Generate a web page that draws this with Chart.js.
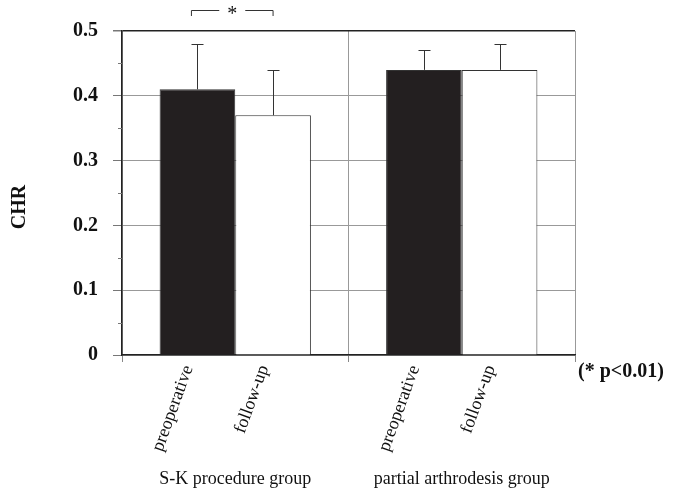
<!DOCTYPE html>
<html><head><meta charset="utf-8">
<script src="https://cdn.jsdelivr.net/npm/chart.js@4/dist/chart.umd.min.js"></script>
<style>html,body{margin:0;padding:0;background:#fff}#wrap{width:679px;height:497px}</style>
</head><body><div id="wrap"><canvas id="c" width="679" height="497"></canvas></div>
<script>
const groups = ["S-K procedure group", "partial arthrodesis group"];
const seriesNames = ["preoperative", "follow-up"];
const preoperative = [0.41, 0.44];
const followUp = [0.37, 0.44];
const preopUpper = [0.48, 0.47];
const followUpper = [0.44, 0.48];
const yMajorTicks = [0, 0.1, 0.2, 0.3, 0.4, 0.5];
const yMinorTicks = [0.05, 0.15, 0.25, 0.35, 0.45];
const significanceMark = "*";
const noteText = "(* p<0.01)";
const yTitle = "CHR";

const SERIF = "'Liberation Serif','Times New Roman',serif";
const uppers = [preopUpper, followUpper];

const overlay = {
  id: 'overlay',
  afterDatasetsDraw(chart) {
    const ctx = chart.ctx;
    const ys = chart.scales.y;
    const area = chart.chartArea;
    ctx.save();
    // error bars
    ctx.strokeStyle = '#333';
    ctx.lineWidth = 1;
    uppers.forEach((arr, i) => {
      const meta = chart.getDatasetMeta(i);
      arr.forEach((u, j) => {
        const bar = meta.data[j];
        const x = Math.round(bar.x) + 0.5;
        const yt = Math.round(ys.getPixelForValue(u)) + 0.5;
        ctx.beginPath();
        ctx.moveTo(x, bar.y);
        ctx.lineTo(x, yt);
        ctx.moveTo(x - 6, yt);
        ctx.lineTo(x + 6, yt);
        ctx.stroke();
      });
    });
    // minor ticks on y axis
    ctx.strokeStyle = '#777';
    yMinorTicks.forEach(v => {
      const y = Math.round(ys.getPixelForValue(v)) + 0.5;
      ctx.beginPath();
      ctx.moveTo(area.left - 4, y);
      ctx.lineTo(area.left, y);
      ctx.stroke();
    });
    // rotated bar labels
    ctx.fillStyle = '#111';
    ctx.font = "18px " + SERIF;
    ctx.textAlign = 'right';
    ctx.textBaseline = 'middle';
    seriesNames.forEach((name, i) => {
      const meta = chart.getDatasetMeta(i);
      meta.data.forEach(bar => {
        ctx.save();
        ctx.translate(bar.x - 9, area.bottom + 11);
        ctx.rotate(-70 * Math.PI / 180);
        ctx.fillText(name, 0, 0);
        ctx.restore();
      });
    });
    // significance bracket
    const x1 = chart.getDatasetMeta(0).data[0].x - 6;
    const x2 = chart.getDatasetMeta(1).data[0].x;
    const mid = (x1 + x2) / 2;
    const yb = 10.5;
    ctx.strokeStyle = '#333';
    ctx.beginPath();
    ctx.moveTo(x1, 16); ctx.lineTo(x1, yb); ctx.lineTo(mid - 13, yb);
    ctx.moveTo(mid + 13, yb); ctx.lineTo(x2, yb); ctx.lineTo(x2, 16);
    ctx.stroke();
    ctx.textAlign = 'center';
    ctx.font = "20px " + SERIF;
    ctx.fillText(significanceMark, mid, 15);
    // note
    ctx.font = "bold 20px " + SERIF;
    ctx.textAlign = 'left';
    ctx.fillText(noteText, area.right + 3, area.bottom + 17);
    // y title
    ctx.save();
    ctx.translate(20, 207);
    ctx.rotate(-Math.PI / 2);
    ctx.textAlign = 'center';
    ctx.fillText(yTitle, 0, 0);
    ctx.restore();
    ctx.restore();
  }
};

new Chart(document.getElementById('c'), {
  type: 'bar',
  data: {
    labels: groups,
    datasets: [
      { label: seriesNames[0], data: preoperative, backgroundColor: '#231f20', borderColor: '#333', borderWidth: 1,
        categoryPercentage: 0.668, barPercentage: 1.0 },
      { label: seriesNames[1], data: followUp, backgroundColor: '#ffffff', borderColor: '#333', borderWidth: 1,
        categoryPercentage: 0.668, barPercentage: 1.0 }
    ]
  },
  options: {
    responsive: false,
    devicePixelRatio: 1,
    animation: false,
    layout: { padding: { left: 0, top: 31, right: 104, bottom: 0 } },
    plugins: { legend: { display: false }, tooltip: { enabled: false } },
    scales: {
      x: {
        grid: {
          offset: true,
          color: c => c.index === 2 ? '#222' : '#999',
          tickColor: '#888',
          tickLength: 7,
          lineWidth: c => c.index === 2 ? 1.5 : 1
        },
        border: { display: true, color: '#222', width: 1.5 },
        ticks: { color: '#111', font: { family: SERIF, size: 18 }, padding: 106, maxRotation: 0 },
        afterFit: s => { s.height = 142; s.paddingLeft = 0; s.paddingRight = 0; }
      },
      y: {
        min: 0, max: 0.5,
        afterBuildTicks: s => { s.ticks = yMajorTicks.map(v => ({ value: v })); },
        grid: {
          color: c => (c.tick && c.tick.value === 0.5) ? '#222' : '#999',
          lineWidth: c => (c.tick && c.tick.value === 0.5) ? 1.5 : 1,
          tickColor: '#777',
          tickLength: 9
        },
        border: { display: true, color: '#222', width: 1.5 },
        ticks: {
          color: '#111',
          font: { family: SERIF, size: 20, weight: 'bold' },
          padding: 15,
          callback: v => v === 0 ? '0' : Number(v).toFixed(1)
        },
        afterFit: s => { s.width = 122; s.paddingTop = 0; s.paddingBottom = 0; }
      }
    }
  },
  plugins: [overlay]
});
</script>
</body></html>
